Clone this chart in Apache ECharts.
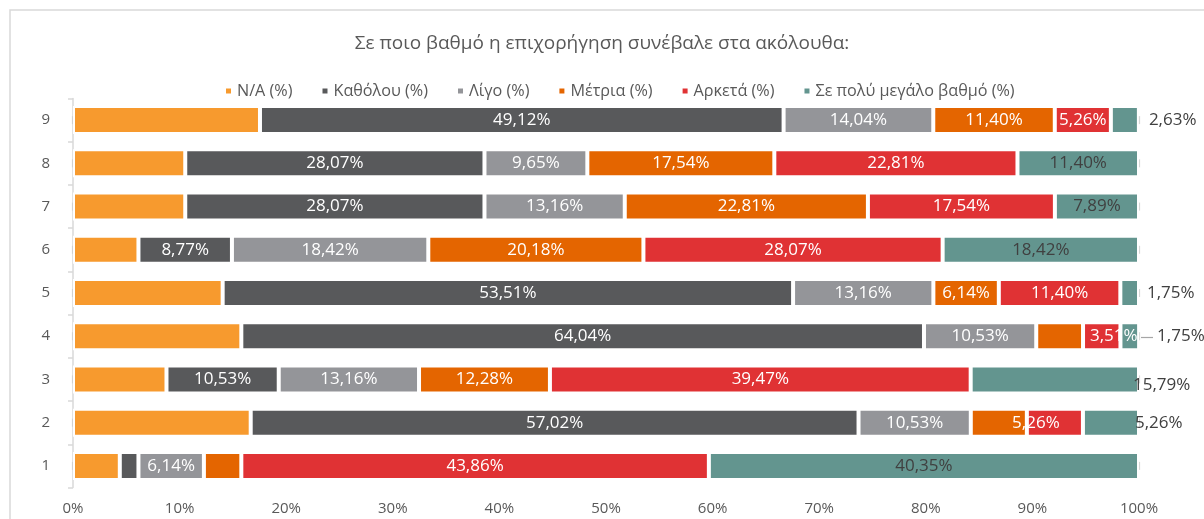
<!DOCTYPE html>
<html>
<head>
<meta charset="utf-8">
<script src="https://cdn.jsdelivr.net/npm/echarts@6/dist/echarts.min.js"></script>
<style>
  html, body { margin: 0; padding: 0; background: #fff; }
  #myChart { width: 1204px; height: 519px; }
</style>
</head>
<body>
<div id="myChart"></div>
<script>
// categories (bottom to top)
const categories = ['1', '2', '3', '4', '5', '6', '7', '8', '9']
const legendData = ['N/A (%)', 'Καθόλου (%)', 'Λίγο (%)', 'Μέτρια (%)', 'Αρκετά (%)', 'Σε πολύ μεγάλο βαθμό (%)']
const naData = [4.39, 16.67, 8.77, 15.79, 14.04, 6.14, 10.53, 10.53, 17.54]
const katholouData = [1.75, 57.02, 10.53, 64.04, 53.51, 8.77, 28.07, 28.07, 49.12]
const ligoData = [6.14, 10.53, 13.16, 10.53, 13.16, 18.42, 13.16, 9.65, 14.04]
const metriaData = [3.51, 5.26, 12.28, 4.39, 6.14, 20.18, 22.81, 17.54, 11.40]
const arketaData = [43.86, 5.26, 39.47, 3.51, 11.40, 28.07, 17.54, 22.81, 5.26]
const polyData = [40.35, 5.26, 15.79, 1.75, 1.75, 18.42, 7.89, 11.40, 2.63]
const xTicks = [0, 10, 20, 30, 40, 50, 60, 70, 80, 90, 100]

const color = ['#F79A2E', '#58595B', '#949599', '#E46500', '#E03234', '#63958F']
const fontFamily = '"Open Sans", "Noto Sans", sans-serif'

const fmt = v => v.toFixed(2).replace('.', ',') + '%'

// per-item label tweaks, keyed by category index
function items(values, overrides) {
    return values.map((v, i) => {
        const o = overrides && overrides[i]
        return o ? { value: v, label: o } : v
    })
}

const hide = { show: false }
const seriesData = [
    items(naData),
    items(katholouData, { 0: hide }),
    items(ligoData),
    items(metriaData, { 0: hide, 1: hide, 3: hide }),
    items(arketaData, { 1: { offset: [-19, 0] }, 3: { offset: [12, 0] } }),
    items(polyData, {
        1: { position: 'right', distance: -4 },
        2: { position: 'right', distance: -6, offset: [0, 6] },
        3: { position: 'right', distance: 18 },
        4: { position: 'right', distance: 8 },
        8: { position: 'right', distance: 10 }
    })
]

let series = []
legendData.forEach((name, idx) => {
    series.push({
        name: name,
        type: 'bar',
        stack: 'total',
        barWidth: 28,
        itemStyle: { borderColor: '#fff', borderWidth: 2 },
        label: {
            show: idx !== 0,
            position: 'inside',
            color: idx === 5 ? '#404040' : '#fff',
            fontSize: 17,
            fontFamily: fontFamily,
            formatter: p => fmt(p.value)
        },
        data: seriesData[idx]
    })
})

// dashed grid: short dashes only in the gaps between the bars
let gridMarks = []
xTicks.forEach(t => {
    for (let i = 0; i <= categories.length; i++) gridMarks.push([t, i - 0.5])
})

let myChart = echarts.init(document.getElementById('myChart'))
let option = {
    color: color,
    animation: false,
    textStyle: { fontFamily: fontFamily },
    graphic: [{
        type: 'rect',
        shape: { x: 10, y: 10, width: 1400, height: 700 },
        style: { fill: 'none', stroke: '#d9d9d9', lineWidth: 1.5 },
        silent: true
    }, {
        // leader line for the 1,75% label of row 4
        type: 'line',
        shape: { x1: 1141, y1: 337.5, x2: 1153, y2: 337.5 },
        style: { stroke: '#a6a6a6', lineWidth: 1.2 },
        silent: true
    }],
    title: {
        text: 'Σε ποιο βαθμό η επιχορήγηση συνέβαλε στα ακόλουθα:',
        left: 'center',
        top: 29,
        textStyle: { color: '#595959', fontSize: 19, fontWeight: 'normal', fontFamily: fontFamily }
    },
    legend: {
        data: legendData,
        top: 78,
        left: 219,
        icon: 'rect',
        itemWidth: 7,
        itemHeight: 7,
        itemGap: 28,
        textStyle: { color: '#595959', fontSize: 16.2, fontFamily: fontFamily }
    },
    grid: { left: 73, right: 65, top: 98.5, bottom: 31.5, containLabel: false },
    xAxis: {
        type: 'value',
        min: 0,
        max: 100,
        interval: 10,
        axisLine: { show: false },
        axisTick: { show: false },
        axisLabel: {
            color: '#595959',
            fontSize: 15,
            margin: 14,
            formatter: v => xTicks.indexOf(v) >= 0 ? v + '%' : ''
        },
        splitLine: { show: false }
    },
    yAxis: {
        type: 'category',
        data: categories,
        axisLine: { show: true, lineStyle: { color: '#d9d9d9', width: 1.5 } },
        axisTick: { show: true, length: 5, lineStyle: { color: '#d9d9d9', width: 1.5 } },
        axisLabel: { color: '#595959', fontSize: 15, margin: 23 }
    },
    series: series.concat([{
        type: 'scatter',
        silent: true,
        symbol: 'rect',
        symbolSize: [2.2, 8],
        itemStyle: { color: '#cdcdcd' },
        z: 0,
        data: gridMarks
    }])
}
myChart.setOption(option)
</script>
</body>
</html>
